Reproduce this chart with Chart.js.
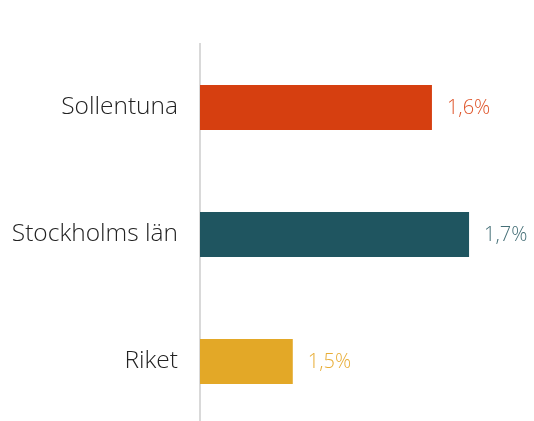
<!DOCTYPE html>
<html>
<head>
<meta charset="utf-8">
<script src="https://cdn.jsdelivr.net/npm/chart.js@4/dist/chart.umd.min.js"></script>
<style>
  html, body { margin: 0; padding: 0; background: #fff; overflow: hidden; }
  .wrap { position: relative; width: 534px; height: 425px; }
</style>
</head>
<body>
<div class="wrap"><canvas id="chart"></canvas></div>
<script>
// data
const categories = ['Sollentuna', 'Stockholms län', 'Riket'];
const values = [1.62, 1.66, 1.47];
const barColors = ['#D63F10', '#1F5560', '#E3A827'];
const labelColors = ['#DF5429', '#456F77', '#E8AD36'];

// draws "1,6%" etc. after each bar
const valueLabels = {
    id: 'valueLabels',
    afterDatasetsDraw(chart) {
        const ctx = chart.ctx;
        const meta = chart.getDatasetMeta(0);
        ctx.save();
        ctx.font = '300 20px "Open Sans"';
        ctx.textBaseline = 'middle';
        ctx.textAlign = 'left';
        meta.data.forEach((bar, i) => {
            ctx.fillStyle = labelColors[i];
            ctx.fillText(values[i].toFixed(1).replace('.', ',') + '%', bar.x + 15, bar.y + 1);
        });
        ctx.restore();
    }
};

const chart = document.querySelector('#chart').getContext('2d');

new Chart(chart, {
    type: 'bar',
    data: {
        labels: categories,
        datasets: [
            {
                data: values,
                backgroundColor: barColors,
                borderWidth: 0,
                categoryPercentage: 1,
                barPercentage: 0.355
            }
        ]
    },
    options: {
        indexAxis: 'y',
        responsive: true,
        maintainAspectRatio: false,
        animation: false,
        layout: { padding: { top: 44, right: 0, bottom: 0, left: 0 } },
        plugins: {
            legend: { display: false },
            tooltip: { enabled: false }
        },
        scales: {
            x: {
                display: false,
                min: 1.37,
                max: 1.73
            },
            y: {
                afterFit(scale) {
                    scale.width = 200;
                    // label padding should not shrink the plot area
                    scale.paddingTop = 0;
                    scale.paddingBottom = 0;
                },
                grid: { display: false, drawTicks: false },
                border: { display: true, color: '#d9d9d9', width: 2 },
                ticks: {
                    padding: 22,
                    color: '#222222',
                    font: { family: 'Open Sans', size: 24.5, weight: '300' }
                }
            }
        }
    },
    plugins: [valueLabels]
});
</script>
</body>
</html>
